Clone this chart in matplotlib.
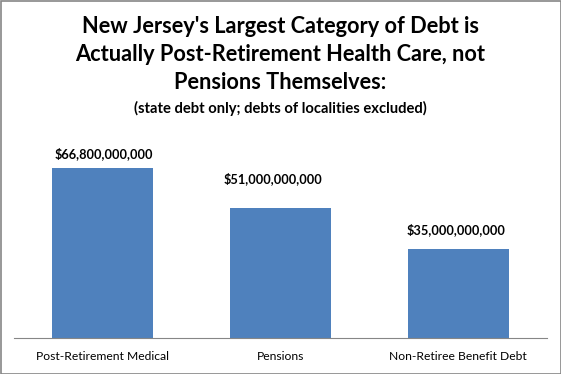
import matplotlib
matplotlib.use("Agg")
import matplotlib.pyplot as plt
from matplotlib.patches import Rectangle

categories = ["Post-Retirement Medical", "Pensions", "Non-Retiree Benefit Debt"]
values = [66.8e9, 51.0e9, 35.0e9]
labels = ["$66,800,000,000", "$51,000,000,000", "$35,000,000,000"]
title_lines = ["New Jersey's Largest Category of Debt is",
               "Actually Post-Retirement Health Care, not",
               "Pensions Themselves:"]
subtitle = "(state debt only; debts of localities excluded)"

# label offsets in pixels (dx, gap above bar top to baseline)
label_offsets = [(1, 10), (-7.5, 25), (-2, 15)]

W, H = 561, 374
fig = plt.figure(figsize=(W/100, H/100), dpi=100)
fam = ["Lato", "DejaVu Sans"]

ax = fig.add_axes([14/W, (H-338)/H, (547-14)/W, (338-134.4)/H])
x = range(len(categories))
ax.bar(x, values, width=0.57, color="#4F81BD")
ax.set_xlim(-0.5, 2.5)
ax.set_ylim(0, 80e9)
for xi, v, lab, (dx, dy) in zip(x, values, labels, label_offsets):
    ax.annotate(lab, (xi, v), xytext=(dx*0.72, dy*0.72), textcoords="offset points",
                ha="center", va="baseline", fontsize=9.2, fontweight="bold",
                family=fam, color="black")
ax.set_xticks(list(x))
ax.set_xticklabels(categories, fontsize=8.7, family=fam)
ax.tick_params(axis="x", length=0, pad=9)
ax.set_yticks([])
for s in ["top", "right", "left"]:
    ax.spines[s].set_visible(False)
ax.spines["bottom"].set_color("#868686")

ys = [33, 61, 89]
for t, y in zip(title_lines, ys):
    fig.text(0.5, 1 - y/H, t, ha="center", va="baseline", fontsize=15.7,
             fontweight="bold", family=fam)
fig.text(0.5, 1 - 113/H, subtitle, ha="center", va="baseline", fontsize=10.6,
         fontweight="bold", family=fam)

fig.patches.append(Rectangle((0.5/W, 0.5/H), 1 - 1/W, 1 - 1/H, transform=fig.transFigure,
                             fill=False, edgecolor="#868686", linewidth=1.2))
fig.savefig("out.png", dpi=100)
